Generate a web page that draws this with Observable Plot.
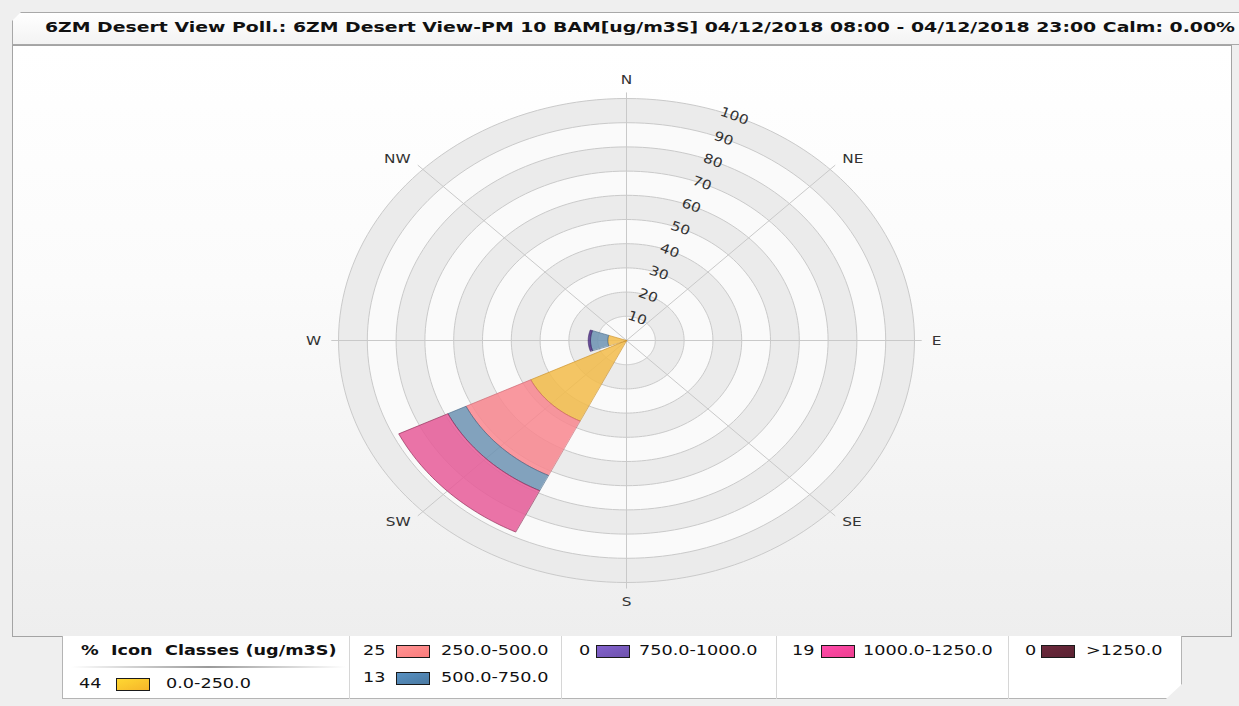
<!DOCTYPE html>
<html>
<head>
<meta charset="utf-8">
<script src="https://cdn.jsdelivr.net/npm/d3@7"></script>
<script src="https://cdn.jsdelivr.net/npm/@observablehq/plot@0.6"></script>
<style>
  html, body { margin: 0; padding: 0; background: #efefef; width: 1239px; height: 706px; overflow: hidden; font-family: "DejaVu Sans", Verdana, sans-serif; }
  #tab { position: absolute; left: 12px; top: 12px; width: 1240px; height: 33px;
         background: linear-gradient(#ffffff, #f3f3f3); border: 1px solid #a8a8a8; box-sizing: border-box;
         clip-path: polygon(0 9px, 9px 0, 100% 0, 100% 100%, 0 100%); }
  #title { position: absolute; left: 45px; top: 19px; font-weight: bold; font-size: 14px; color: #111; white-space: nowrap; transform-origin: 0 0; }
  #panel { position: absolute; left: 12px; top: 45px; width: 1220px; height: 592px; box-sizing: border-box;
           border: 1px solid #a4a4a4; background: linear-gradient(to bottom, #ffffff 0%, #fbfbfb 40%, #f2f2f2 80%, #eeeeee 100%); }
  #chart { position: absolute; left: 0; top: 0; }
  #legend { position: absolute; left: 62px; top: 636px; width: 1120px; height: 63px; box-sizing: border-box;
            background: #ffffff; border: 1px solid #b4b4b4; border-top: none;
            clip-path: polygon(0 0, 100% 0, 100% 48px, calc(100% - 16px) 100%, 0 100%); }
  .sep { position: absolute; top: 0; width: 1px; height: 63px; background: #d6d6d6; }
  .lt { position: absolute; font-size: 14px; color: #111; white-space: nowrap; transform-origin: 0 0; transform: scaleX(1.26); }
  .lb { font-weight: bold; }
  .icon { position: absolute; width: 34px; height: 13px; border: 1.5px solid #1a1a1a; box-sizing: border-box; }
  #hline { position: absolute; left: 8px; top: 30px; width: 275px; height: 2px; background: linear-gradient(to right, #ffffff, #9a9a9a 50%, #ffffff); }
</style>
</head>
<body>
<div id="tab"></div>
<div id="title">6ZM Desert View Poll.: 6ZM Desert View-PM 10 BAM[ug/m3S] 04/12/2018 08:00 - 04/12/2018 23:00 Calm: 0.00%</div>
<div id="panel"><div id="chart"></div></div>
<div id="legend"></div>
<script>
// ---------------- data ----------------
const classes = ["0.0-250.0", "250.0-500.0", "500.0-750.0", "750.0-1000.0", "1000.0-1250.0", ">1250.0"];
const classPct = [44, 25, 13, 0, 19, 0];
const classColors = ["#f2bb4a", "#f8878f", "#6d93b2", "#533489", "#e75c98", "#5a2030"];
const classEdges  = ["#c98d20", "#c9606a", "#3f6585", "#3a1f66", "#8a2450", "#3a1020"];
const iconColors  = ["#f5b52a", "#fb7c7c", "#4a79a2", "#6e52ac", "#ee3f8f", "#5a2232"];

const petalDirs = ["SW", "W"];
const petalBearings = [225, 270];
// percentage of each class per direction (stacked outward)
const petalSW = [37, 25, 7, 0, 19, 0];
const petalW  = [6.5, 0, 6, 0.8, 0, 0];

const ringValues = [10, 20, 30, 40, 50, 60, 70, 80, 90, 100];
const dirLabels = ["N", "NE", "E", "SE", "S", "SW", "W", "NW"];
const dirBearings = [0, 45, 90, 135, 180, 225, 270, 315];

// ---------------- geometry helpers ----------------
const rad = b => b * Math.PI / 180;
const px = (r, b) => r * Math.sin(rad(b));
const py = (r, b) => r * Math.cos(rad(b));
const halfWidth = 19;

// rings (largest first so smaller paint over)
const ringPts = [];
[...ringValues].reverse().forEach((v, i) => {
  const fill = i % 2 === 0 ? "#ebebeb" : "#fafafa";
  d3.range(0, 360, 2).forEach(b => ringPts.push({id: "r" + v, x: px(v, b), y: py(v, b), fill}));
});

// petals
const petalPts = [];
[petalSW, petalW].forEach((vals, di) => {
  const bc = petalBearings[di];
  let r0 = 0;
  vals.forEach((v, ci) => {
    if (v <= 0) return;
    const r1 = r0 + v;
    const id = petalDirs[di] + ci;
    const arc = d3.range(bc - halfWidth, bc + halfWidth + 0.01, 1);
    arc.forEach(b => petalPts.push({id, x: px(r1, b), y: py(r1, b), fill: classColors[ci], stroke: classEdges[ci]}));
    if (r0 === 0) petalPts.push({id, x: 0, y: 0, fill: classColors[ci], stroke: classEdges[ci]});
    else [...arc].reverse().forEach(b => petalPts.push({id, x: px(r0, b), y: py(r0, b), fill: classColors[ci], stroke: classEdges[ci]}));
    r0 = r1;
  });
});

const spokes = dirBearings.map(b => ({x2: px(102.5, b), y2: py(102.5, b)}));
const labelR = 106;
const anchors = {N: "middle", NE: "start", E: "start", SE: "start", S: "middle", SW: "end", W: "end", NW: "end"};
const dirText = dirLabels.map((l, i) => ({l, x: px(labelR, dirBearings[i]), y: py(labelR, dirBearings[i]),
  anchor: anchors[l], line: l === "N" ? "bottom" : (l === "S" ? "top" : "middle")}));
const radialText = ringValues.map(v => ({t: String(v), x: px(v, 22), y: py(v, 22)}));

// ---------------- plot ----------------
const W = 1218, H = 590, cx = 613, cy = 294, rx = 288, ry = 242;
const chart = Plot.plot({
  width: W, height: H,
  style: {background: "transparent", fontFamily: "DejaVu Sans, Verdana, sans-serif"},
  x: {domain: [-100, 100], range: [cx - rx, cx + rx], axis: null},
  y: {domain: [-100, 100], range: [cy + ry, cy - ry], axis: null},
  color: {type: "identity"},
  marks: [
    Plot.line(ringPts, {x: "x", y: "y", z: "id", fill: "fill", stroke: "#cacaca", strokeWidth: 1, curve: "linear-closed"}),
    Plot.link(spokes, {x1: 0, y1: 0, x2: "x2", y2: "y2", stroke: "#c9c9c9", strokeWidth: 1}),
    Plot.line(petalPts, {x: "x", y: "y", z: "id", fill: "fill", stroke: "stroke", strokeWidth: 0.9, strokeOpacity: 0.7, fillOpacity: 0.86, curve: "linear-closed"}),
    ...["start", "middle", "end"].flatMap(a => ["top", "middle", "bottom"].map(la =>
      Plot.text(dirText.filter(d => d.anchor === a && d.line === la), {x: "x", y: "y", text: "l", textAnchor: a, lineAnchor: la, fontSize: 13, fill: "#333"}))),
    Plot.text(radialText, {x: "x", y: "y", text: "t", rotate: 20, fontSize: 13, fill: "#333"})
  ]
});
document.getElementById("chart").appendChild(chart);
chart.querySelectorAll("text").forEach(t => {
  const tr = t.getAttribute("transform") || "";
  t.setAttribute("transform", tr + " scale(1.18,1)");
});

// title fit
const title = document.getElementById("title");
title.style.transform = `scaleX(${1190 / title.getBoundingClientRect().width})`;

// ---------------- legend ----------------
const legend = document.getElementById("legend");
const add = (html, cls, left, top) => {
  const e = document.createElement("div");
  e.className = cls; e.innerHTML = html; e.style.left = left + "px"; e.style.top = top + "px";
  legend.appendChild(e); return e;
};
[348, 560, 775, 1007].forEach(x => add("", "sep", x - 62, 0));
add("% &nbsp;Icon &nbsp;Classes (ug/m3S)", "lt lb", 18, 6);
const hl = document.createElement("div"); hl.id = "hline"; legend.appendChild(hl);
const cells = [
  {ci: 0, y: 39, nx: 16, ix: 53, tx: 103},
  {ci: 1, y: 6, nx: 300, ix: 333, tx: 378},
  {ci: 2, y: 33, nx: 300, ix: 333, tx: 378},
  {ci: 3, y: 6, nx: 516, ix: 533, tx: 576},
  {ci: 4, y: 6, nx: 729, ix: 758, tx: 800},
  {ci: 5, y: 6, nx: 962, ix: 978, tx: 1023}
];
cells.forEach(c => {
  add(String(classPct[c.ci]), "lt", c.nx, c.y);
  const ic = add("", "icon", c.ix, c.y + 3);
  ic.style.background = `linear-gradient(to bottom right, ${d3.color(iconColors[c.ci]).brighter(0.5)}, ${iconColors[c.ci]})`;
  add(classes[c.ci], "lt", c.tx, c.y);
});
</script>
</body>
</html>
